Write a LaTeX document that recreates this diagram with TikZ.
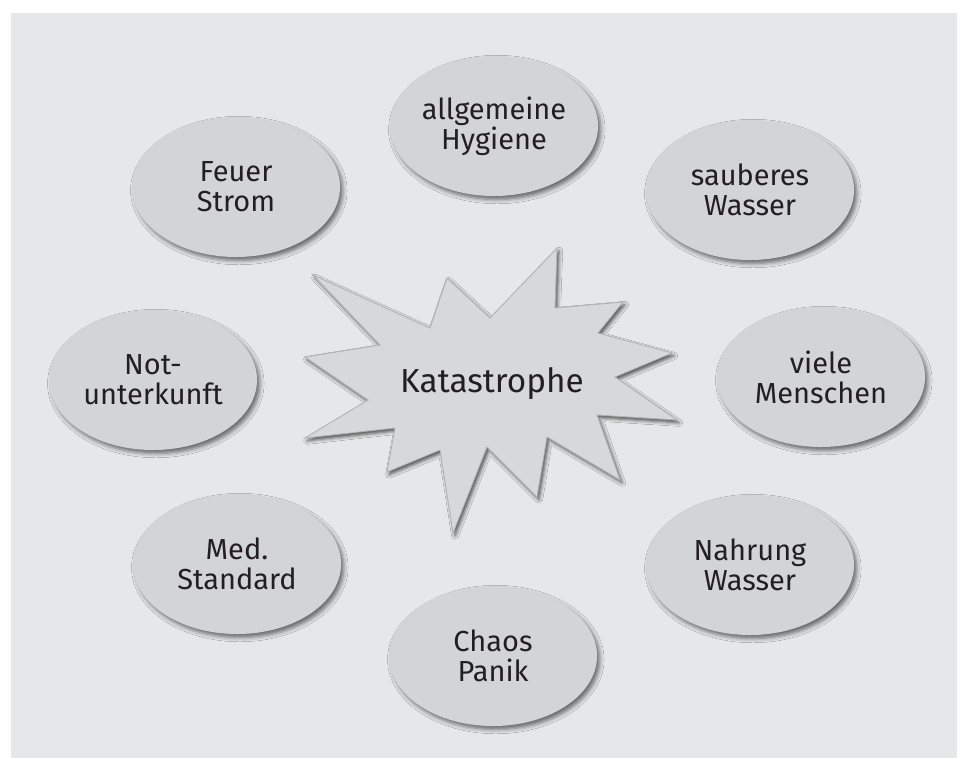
\documentclass[tikz,border=0pt]{standalone}
\usepackage{fontspec}
\setmainfont{Fira Sans}
\usetikzlibrary{shapes.geometric, shadows.blur}
\definecolor{hintergrund}{HTML}{E6E7E8}
\definecolor{blase}{HTML}{D3D4D6}
\definecolor{schrift}{HTML}{231F20}
\tikzstyle{thema} = [ellipse, minimum width=5.2cm, minimum height=3.5cm, inner sep=0pt, align=center, fill=blase, text=schrift, font=\fontsize{20.6}{21.3}\selectfont, blur shadow={shadow xshift=2pt, shadow yshift=-2.5pt, shadow blur radius=3pt, shadow opacity=55}]
\tikzstyle{stern} = [fill=blase!90!white, draw=gray!60, line width=0.6pt, line join=miter, blur shadow={shadow xshift=1.5pt, shadow yshift=-2pt, shadow blur radius=2.5pt, shadow opacity=65}]
\tikzstyle{titel} = [text=schrift, font=\fontsize{23.7}{26}\selectfont]

\begin{document}
\begin{tikzpicture}[x=0.025cm, y=-0.025cm]

% Hintergrund
\useasboundingbox [fill=white] (0,0) rectangle (962,758);
\fill [hintergrund] (11,13) rectangle (957,758);

% Stern in der Mitte
\draw [stern] (313,275) -- (430,328) -- (447,278) -- (490,318) -- (557,248) -- (555,308)
  -- (623,302) -- (598,333) -- (672,353) -- (615,377) -- (677,420) -- (597,415)
  -- (620,480) -- (547,437) -- (537,497) -- (487,447) -- (453,533) -- (440,450)
  -- (387,472) -- (395,428) -- (305,438) -- (368,400) -- (305,357) -- (380,345) -- cycle;
\node (kat) [titel] at (492,384) {Katastrophe};

% Ellipsen rundherum
\node (hygiene) [thema] at (494,126) {allgemeine\\Hygiene};
\node (wasser) [thema] at (750,190) {sauberes\\Wasser};
\node (menschen) [thema] at (821,377) {viele\\Menschen};
\node (nahrung) [thema] at (750,565) {Nahrung\\Wasser};
\node (chaos) [thema] at (493,656) {Chaos\\Panik};
\node (med) [thema] at (237,564) {Med.\\Standard};
\node (not) [thema] at (153,380) {Not-\\unterkunft};
\node (feuer) [thema] at (236,187) {Feuer\\Strom};

\end{tikzpicture}
\end{document}
